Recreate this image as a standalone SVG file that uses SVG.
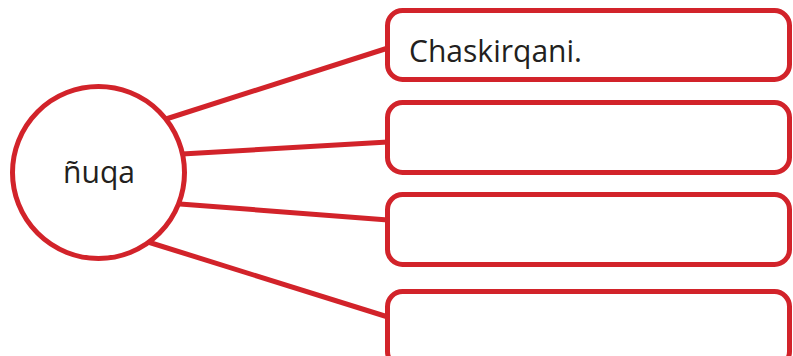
<svg xmlns="http://www.w3.org/2000/svg" width="793" height="356" viewBox="0 0 793 356">
<style>
.ln{stroke:#d2232a;stroke-width:5;fill:none;stroke-linecap:butt}
.nd{stroke:#d2232a;stroke-width:5;fill:#ffffff}
.tx{font-family:"Open Sans","Liberation Sans",sans-serif;font-size:31px;fill:#231f20}
</style>
<rect width="793" height="356" fill="#ffffff"/>
<g id="connectors">
<line class="ln" x1="166" y1="119" x2="388" y2="48"/>
<line class="ln" x1="182" y1="154" x2="388" y2="142"/>
<line class="ln" x1="180" y1="204" x2="388" y2="220"/>
<line class="ln" x1="148" y1="242" x2="388" y2="317"/>
</g>
<g id="center">
<circle class="nd" cx="98.5" cy="172.5" r="86"/>
<text class="tx" x="99" y="183" text-anchor="middle" textLength="72" lengthAdjust="spacingAndGlyphs">ñuqa</text>
</g>
<g id="box1">
<rect class="nd" x="387.5" y="10.5" width="402" height="69" rx="15"/>
<text class="tx" x="409" y="62" textLength="173" lengthAdjust="spacingAndGlyphs">Chaskirqani.</text>
</g>
<g id="box2">
<rect class="nd" x="387.5" y="102.5" width="402" height="70" rx="15"/>
</g>
<g id="box3">
<rect class="nd" x="387.5" y="194.5" width="402" height="70" rx="15"/>
</g>
<g id="box4">
<rect class="nd" x="387.5" y="291.5" width="402" height="75" rx="15"/>
</g>
</svg>
